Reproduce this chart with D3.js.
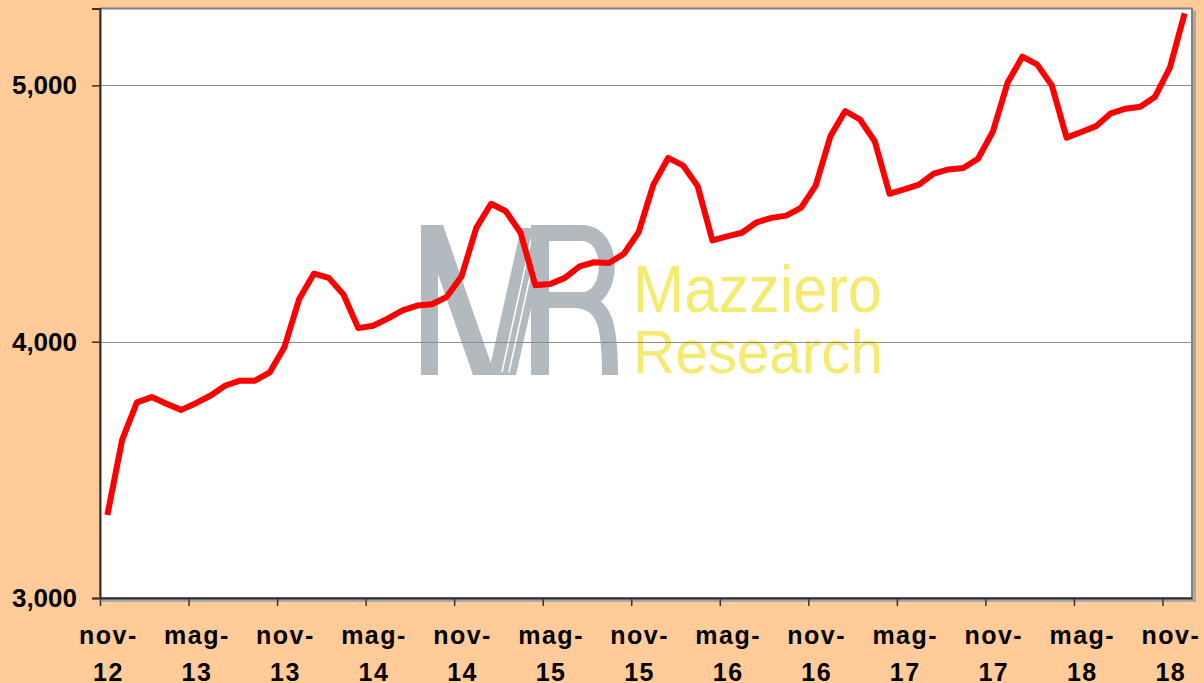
<!DOCTYPE html>
<html>
<head>
<meta charset="utf-8">
<script src="https://cdn.jsdelivr.net/npm/d3@7"></script>
<style>
  body { margin: 0; background: #FFCC99; }
  svg { display: block; font-family: "Liberation Sans", Arial, sans-serif; }
</style>
</head>
<body>
<div class="chart"></div>
<script>
const months = [
  "nov-12","dic-12",
  "gen-13","feb-13","mar-13","apr-13","mag-13","giu-13","lug-13","ago-13","set-13","ott-13","nov-13","dic-13",
  "gen-14","feb-14","mar-14","apr-14","mag-14","giu-14","lug-14","ago-14","set-14","ott-14","nov-14","dic-14",
  "gen-15","feb-15","mar-15","apr-15","mag-15","giu-15","lug-15","ago-15","set-15","ott-15","nov-15","dic-15",
  "gen-16","feb-16","mar-16","apr-16","mag-16","giu-16","lug-16","ago-16","set-16","ott-16","nov-16","dic-16",
  "gen-17","feb-17","mar-17","apr-17","mag-17","giu-17","lug-17","ago-17","set-17","ott-17","nov-17","dic-17",
  "gen-18","feb-18","mar-18","apr-18","mag-18","giu-18","lug-18","ago-18","set-18","ott-18","nov-18","dic-18"
];

const values = [
  3324, 3617, 3763, 3784, 3758, 3734, 3760, 3790, 3829, 3848, 3848, 3880,
  3979, 4167, 4266, 4249, 4184, 4053, 4062, 4090, 4122, 4141, 4146, 4175,
  4255, 4444, 4538, 4509, 4425, 4220, 4225, 4249, 4294, 4310, 4307, 4343,
  4427, 4613, 4717, 4688, 4607, 4395, 4411, 4425, 4466, 4483, 4492, 4522,
  4609, 4802, 4900, 4867, 4782, 4577, 4594, 4613, 4656, 4672, 4678, 4714,
  4819, 5010, 5112, 5082, 5000, 4796, 4818, 4841, 4891, 4909, 4917, 4956,
  5069, 5281
];

const yTicks = [3000, 4000, 5000];
const xLabels = ["nov-12","mag-13","nov-13","mag-14","nov-14","mag-15","nov-15",
                 "mag-16","nov-16","mag-17","nov-17","mag-18","nov-18"];

const W = 1204, H = 683;
const plot = {left: 100, right: 1192, top: 8.5, bottom: 598};

const svg = d3.select(".chart").append("svg")
  .attr("width", W)
  .attr("height", H);

svg.append("rect")
  .attr("width", W).attr("height", H)
  .attr("fill", "#FFCC99");

const xScale = d3.scaleBand()
  .domain(months)
  .range([plot.left, plot.right])
  .padding(0);

// category boundaries for tick marks
const xEdge = d3.scaleLinear()
  .domain([0, months.length])
  .range([plot.left, plot.right]);

const yScale = d3.scaleLinear()
  .domain([3000, 5300])
  .range([plot.bottom, plot.top]);

// plot area with a little shadow
svg.append("rect")
  .attr("x", plot.left + 2).attr("y", plot.top + 2)
  .attr("width", plot.right - plot.left + 2)
  .attr("height", plot.bottom - plot.top + 2)
  .attr("fill", "#a8a8a8");
svg.append("rect")
  .attr("x", plot.left).attr("y", plot.top)
  .attr("width", plot.right - plot.left)
  .attr("height", plot.bottom - plot.top)
  .attr("fill", "white")
  .attr("stroke", "#808080")
  .attr("stroke-width", 2);

// watermark logo
const logo = svg.append("g").attr("class", "logo");
const grey = "#b2babf";
logo.append("rect")
  .attr("x", 421).attr("y", 225).attr("width", 17).attr("height", 150)
  .attr("fill", grey);
logo.append("path")
  .attr("d", "M421,225 L443,225 L495,375 L473,375 Z")
  .attr("fill", grey);
logo.append("path")
  .attr("d", "M488,375 L516,375 L549,228 L521,228 Z")
  .attr("fill", grey);
logo.append("path")
  .attr("d", "M502,372 L532,236 M509,372 L539,236")
  .attr("stroke", "white").attr("stroke-width", 1.5);
logo.append("rect")
  .attr("x", 531).attr("y", 225).attr("width", 18).attr("height", 150)
  .attr("fill", grey);
logo.append("path")
  .attr("d", "M531,233 H582 C615,233 615,300 582,300 H549 M578,300 C604,304 610,322 610,375")
  .attr("fill", "none")
  .attr("stroke", grey)
  .attr("stroke-width", 16);
logo.append("text")
  .attr("x", 633).attr("y", 312)
  .attr("textLength", 249).attr("lengthAdjust", "spacingAndGlyphs")
  .attr("font-size", 66)
  .attr("fill", "#f6eb72")
  .text("Mazziero");
logo.append("text")
  .attr("x", 633).attr("y", 373)
  .attr("textLength", 250).attr("lengthAdjust", "spacingAndGlyphs")
  .attr("font-size", 62)
  .attr("fill", "#f6eb72")
  .text("Research");

// gridlines
svg.append("g")
  .selectAll("line")
  .data(yTicks.slice(1))
  .enter().append("line")
  .attr("x1", plot.left).attr("x2", plot.right)
  .attr("y1", d => Math.round(yScale(d)) + 0.5)
  .attr("y2", d => Math.round(yScale(d)) + 0.5)
  .attr("stroke", "#8c8c8c")
  .attr("stroke-width", 1);

// y axis
const yAxis = d3.axisLeft(yScale)
  .tickValues(yTicks)
  .tickFormat(d3.format(","))
  .tickSize(8)
  .tickPadding(15);

svg.append("g")
  .attr("class", "axis y-axis")
  .attr("transform", "translate(" + plot.left + ",0)")
  .call(yAxis)
  .call(g => g.select(".domain").attr("stroke", "#333").attr("stroke-width", 2))
  .call(g => g.selectAll(".tick line").attr("stroke", "#333").attr("stroke-width", 1.5))
  .call(g => g.selectAll(".tick text")
    .attr("fill", "black")
    .attr("font-size", 26)
    .attr("font-weight", "bold")
    .attr("font-family", "'Liberation Sans', Arial, sans-serif"));

// x axis tick marks at category boundaries
const xAxis = d3.axisBottom(xEdge)
  .tickValues(d3.range(0, months.length, 6))
  .tickFormat("")
  .tickSize(8)
  .tickSizeOuter(0);

svg.append("g")
  .attr("class", "axis x-axis")
  .attr("transform", "translate(0," + plot.bottom + ")")
  .call(xAxis)
  .call(g => g.select(".domain").attr("stroke", "#333").attr("stroke-width", 2))
  .call(g => g.selectAll(".tick line").attr("stroke", "#333").attr("stroke-width", 1.5));

// x labels, two lines each
const lab = svg.append("g")
  .attr("font-size", 25)
  .attr("font-weight", "bold")
  .attr("fill", "black")
  .attr("text-anchor", "middle")
  .attr("letter-spacing", 1.5);

lab.selectAll("text")
  .data(xLabels)
  .enter().append("text")
  .attr("transform", d => "translate(" + (xScale(d) + xScale.bandwidth() / 2 + 1) + ",0)")
  .each(function(d) {
    const parts = d.split("-");
    const t = d3.select(this);
    t.append("tspan").attr("x", 0).attr("y", 644).text(parts[0] + "-");
    t.append("tspan").attr("x", 0).attr("y", 681).text(parts[1]);
  });

// the series
const line = d3.line()
  .x((d, i) => xScale(months[i]) + xScale.bandwidth() / 2)
  .y(d => yScale(d));

svg.append("path")
  .datum(values)
  .attr("fill", "none")
  .attr("stroke", "#ff0000")
  .attr("stroke-width", 6)
  .attr("stroke-linejoin", "round")
  .attr("d", line);
</script>
</body>
</html>
